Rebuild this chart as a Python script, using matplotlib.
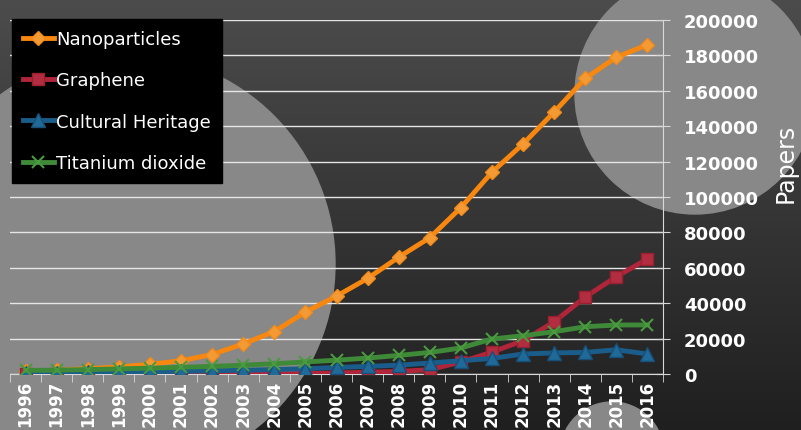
import numpy as np
import matplotlib
matplotlib.use("Agg")
import matplotlib.pyplot as plt
from matplotlib.patches import Circle
from matplotlib.colors import LinearSegmentedColormap

years = [str(y) for y in range(1996, 2017)]
nanoparticles = [1500, 2200, 3000, 4000, 5500, 7500, 11000, 17000, 24000, 35000, 44000,
                 54000, 66000, 77000, 94000, 114000, 130000, 148000, 167000, 179000, 186000]
graphene = [0, 0, 0, 0, 0, 0, 0, 0, 0, 300, 600, 1000, 1500, 2400, 6800, 12400,
            18800, 29500, 43500, 55000, 65000]
cultural = [500, 700, 900, 1100, 1300, 1500, 1800, 2100, 2500, 3000, 3700, 4300, 5000,
            6200, 7500, 8800, 11300, 11900, 12200, 13700, 11300]
titanium = [2000, 2200, 2500, 2900, 3300, 3800, 4300, 5000, 5800, 6800, 7800, 9000,
            10500, 12200, 14700, 19800, 21600, 23900, 26700, 27700, 27700]
yticks = list(range(0, 200001, 20000))

W, H = 801, 431
fig = plt.figure(figsize=(W / 100, H / 100), dpi=100)

# background
bg = fig.add_axes([0, 0, 1, 1], zorder=0)
bg.set_xlim(0, W)
bg.set_ylim(H, 0)
bg.axis("off")
grad = np.linspace(0, 1, 256)[:, None]
cmap = LinearSegmentedColormap.from_list("g", ["#4c4c4c", "#1f1f1f"])
bg.imshow(grad, extent=[0, W, H, 0], cmap=cmap, aspect="auto")
circ_col = "#888888"
for (cx, cy, r) in [(125, 265, 210), (695, 95, 120), (612, 455, 52)]:
    bg.add_patch(Circle((cx, cy), r, color=circ_col, zorder=1))

ax = fig.add_axes([10 / W, (H - 375) / H, (663 - 10) / W, (375 - 21) / H], zorder=1)
ax.patch.set_alpha(0)
x = np.arange(len(years))

ax.plot(x, nanoparticles, color="#f7870f", lw=3.5, marker="D", ms=7, mec="#f28a1a",
        mfc="#f49a35", label="Nanoparticles", zorder=3)
ax.plot(x, graphene, color="#b0253a", lw=3.5, marker="s", ms=9, mfc="#b22d40",
        mec="#9a2030", label="Graphene", zorder=3)
ax.plot(x, cultural, color="#1a5d8a", lw=3.5, marker="^", ms=10, mfc="#1f6a98",
        mec="#174f78", label="Cultural Heritage", zorder=4)
ax.plot(x, titanium, color="#3f8a38", lw=3.5, marker="x", ms=9, mew=1.5,
        mec="#4a9a40", label="Titanium dioxide", zorder=5)

ax.set_xlim(-0.5, len(years) - 0.5)
ax.set_ylim(0, 200000)
ax.set_yticks(yticks)
ax.yaxis.tick_right()
ax.yaxis.set_label_position("right")
ax.set_yticklabels([str(v) for v in yticks], color="white", fontsize=13,
                   fontfamily="DejaVu Sans", fontweight="semibold")
ax.tick_params(axis="y", which="major", direction="inout", length=10, color="#d8d8d8",
               pad=10)
ax.grid(axis="y", color="#e6e6e6", lw=1)
ax.set_axisbelow(True)

ax.set_xticks(x)
ax.set_xticklabels(years, rotation=90, color="white", fontsize=12, fontweight="bold")
ax.tick_params(axis="x", which="major", length=0, pad=4)
ax.set_xticks(np.arange(-0.5, len(years), 1), minor=True)
ax.tick_params(axis="x", which="minor", direction="out", length=6, color="#d8d8d8")

for s in ["top", "left"]:
    ax.spines[s].set_visible(False)
ax.spines["bottom"].set_color("#d8d8d8")
ax.spines["right"].set_color("#d8d8d8")

ax.set_ylabel("Papers", color="white", fontsize=17)
ax.yaxis.set_label_coords((774 - 10) / 653, (375 - 163) / 354)

leg = ax.legend(loc="upper left", frameon=True, fancybox=False, facecolor="black",
                edgecolor="black", framealpha=1, fontsize=13, labelspacing=1.3,
                handlelength=1.7, handletextpad=0.15, borderpad=0.6, borderaxespad=0)
for t in leg.get_texts():
    t.set_color("white")
leg.set_bbox_to_anchor((12 / W, 1 - 20 / H), transform=fig.transFigure)

fig.savefig("out.png", dpi=100)
